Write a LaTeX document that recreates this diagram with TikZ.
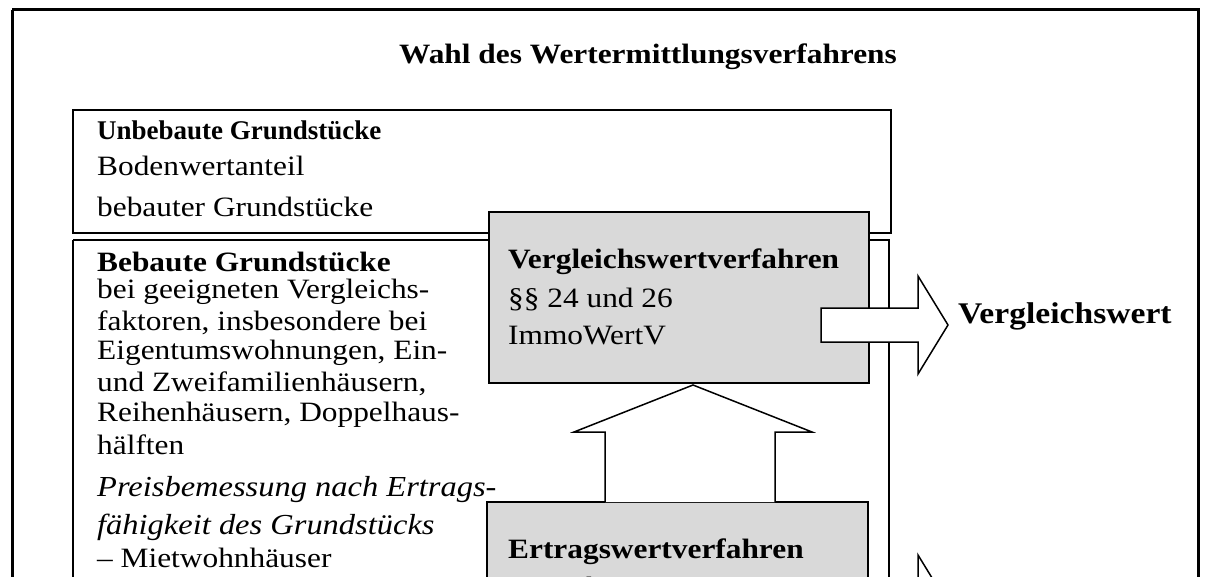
\documentclass[tikz,border=0pt]{standalone}
\usepackage{fontspec}
\usepackage{graphicx}
\setmainfont{Liberation Serif}
\newcommand\widetxt[1]{\scalebox{1.12}[1]{#1}}
\begin{document}
\begin{tikzpicture}[x=1pt,y=-1pt,
  t/.style={anchor=west,inner sep=0pt,font=\fontsize{28}{28}\selectfont},
  tb/.style={t,font=\fontsize{28}{28}\selectfont\bfseries},
  ti/.style={t,font=\fontsize{29}{29}\selectfont\itshape},
  box/.style={draw,line width=1.5pt},
  gbox/.style={draw,line width=1.5pt,fill=gray!30}]
\useasboundingbox (0,0) rectangle (1214,577);
\clip (0,0) rectangle (1214,577);
\draw[line width=3pt] (12,10) -- (12,600) (12,10) -- (1198,10) -- (1198,600);
\node[tb,anchor=center] (title) at (648,57) {\widetxt{Wahl des Wertermittlungsverfahrens}};
\draw[box] (73,110) rectangle (891,233);
\node[tb,font=\fontsize{27}{27}\selectfont\bfseries] (u1) at (97,130) {Unbebaute Grundstücke};
\node[t] (u2) at (97,166) {\widetxt{Bodenwertanteil}};
\node[t] (u3) at (97,207) {\widetxt{bebauter Grundstücke}};
\draw[box] (73,240) -- (73,600) (73,240) -- (889,240) -- (889,600);
\node[tb] (b1) at (97,262) {\widetxt{Bebaute Grundstücke}};
\foreach \y/\s [count=\i] in {292/bei geeigneten Vergleichs-,323/{faktoren, insbesondere bei},353/{Eigentumswohnungen, Ein-},384/{und Zweifamilienhäusern,},415/{Reihenhäusern, Doppelhaus-},445/hälften}
  \node[t] (l\i) at (97,\y) {\widetxt{\s}};
\node[ti] (p1) at (97,490) {\widetxt{Preisbemessung nach Ertrags-}};
\node[ti] (p2) at (97,527) {\widetxt{fähigkeit des Grundstücks}};
\node[t] (p3) at (97,558) {\widetxt{– Mietwohnhäuser}};
\draw[gbox] (489,212) rectangle (869,383);
\node[tb] (v1) at (508,262) {\widetxt{Vergleichswertverfahren}};
\node[t] (v2) at (508,300) {\widetxt{§§ 24 und 26}};
\node[t] (v3) at (508,336) {\widetxt{ImmoWertV}};
\draw[gbox] (487,502) rectangle (868,620);
\node[tb] (e1) at (508,552) {\widetxt{Ertragswertverfahren}};
\node[t] (e2) at (508,589) {\widetxt{§§ 28 bis 34}};
\draw[line width=1.5pt,fill=white] (605,502) -- (605,432) -- (574,432) -- (693,385) -- (812,432) -- (775,432) -- (775,502);
\draw[line width=1.5pt,fill=white] (821,308) -- (918,308) -- (918,276) -- (948,325) -- (918,374) -- (918,342) -- (821,342) -- cycle;
\node[tb,font=\fontsize{30}{30}\selectfont\bfseries] (vw) at (958,316) {\widetxt{Vergleichswert}};
\draw[line width=1.5pt,fill=white] (918,650) -- (918,555) -- (948,604);
\end{tikzpicture}
\end{document}
